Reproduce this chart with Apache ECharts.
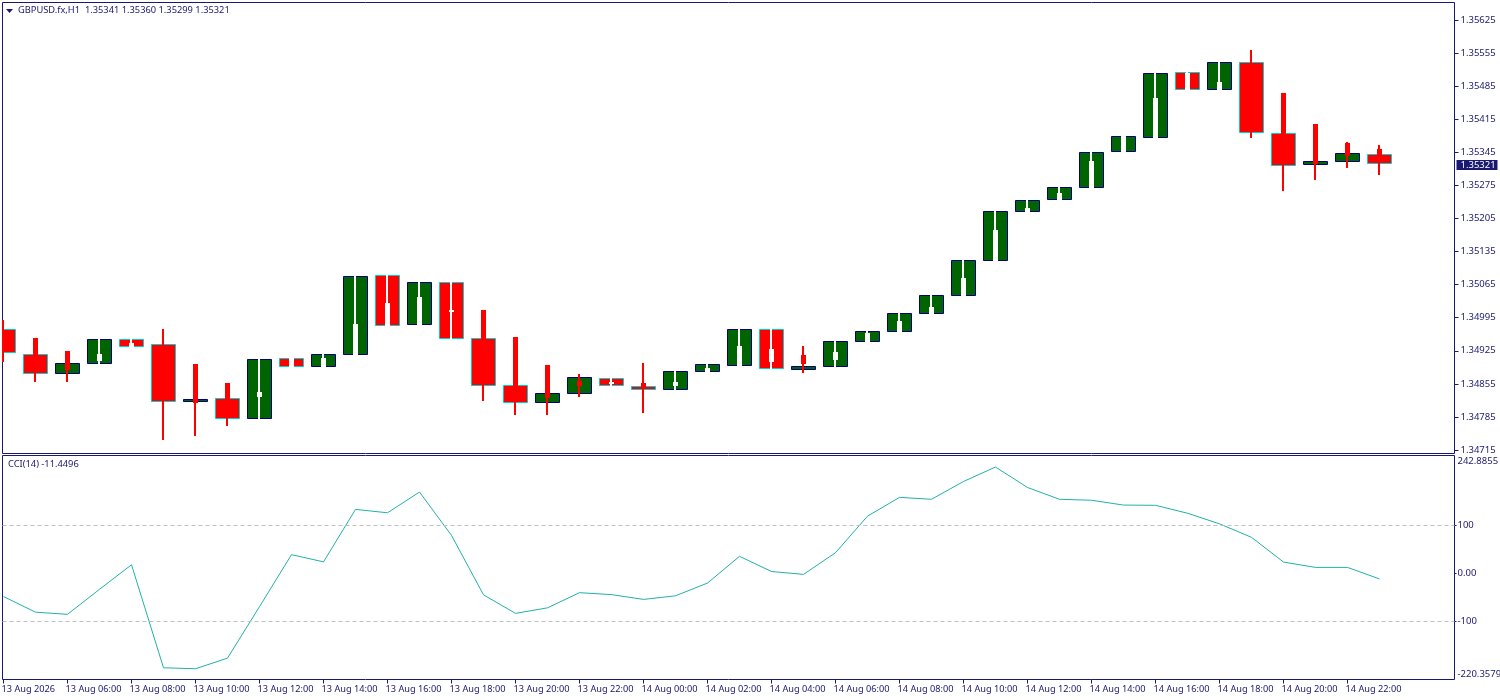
<!DOCTYPE html>
<html>
<head>
<meta charset="utf-8">
<title>GBPUSD.fx,H1</title>
<script src="https://cdn.jsdelivr.net/npm/echarts@6/dist/echarts.min.js"></script>
<style>
html, body { margin: 0; padding: 0; background: #fff; }
#chart { width: 1500px; height: 700px; }
</style>
</head>
<body>
<div id="chart"></div>
<script>
// bars 13 Aug 04:00 .. 14 Aug 23:00, hourly
var opens = [1.34970,1.34917,1.34877,1.34898,1.34949,1.34938,1.34818,1.34824,1.34782,1.34909,1.34892,1.34917,1.35084,1.34981,1.35069,1.34951,1.34851,1.34815,1.34835,1.34866,1.34849,1.34843,1.34881,1.34894,1.34970,1.34885,1.34892,1.34945,1.34966,1.35004,1.35042,1.35116,1.35220,1.35245,1.35271,1.35347,1.35376,1.35514,1.35478,1.35535,1.35385,1.35319,1.35326,1.35341];
var closes = [1.34921,1.34877,1.34898,1.34949,1.34934,1.34818,1.34822,1.34782,1.34907,1.34892,1.34917,1.35082,1.34979,1.35069,1.34951,1.34851,1.34815,1.34835,1.34868,1.34851,1.34843,1.34881,1.34896,1.34970,1.34888,1.34892,1.34945,1.34966,1.35004,1.35042,1.35116,1.35220,1.35243,1.35271,1.35345,1.35378,1.35512,1.35478,1.35535,1.35387,1.35317,1.35326,1.35342,1.35321];
var highs = [1.34989,1.34951,1.34923,1.34949,1.34949,1.34970,1.34896,1.34856,1.34907,1.34909,1.34917,1.35082,1.35084,1.35069,1.35069,1.35010,1.34953,1.34894,1.34875,1.34866,1.34898,1.34881,1.34896,1.34970,1.34970,1.34934,1.34945,1.34966,1.35004,1.35042,1.35116,1.35220,1.35243,1.35271,1.35345,1.35378,1.35512,1.35514,1.35535,1.35561,1.35470,1.35404,1.35366,1.35360];
var lows = [1.34902,1.34860,1.34860,1.34898,1.34934,1.34737,1.34746,1.34767,1.34782,1.34892,1.34892,1.34917,1.34979,1.34981,1.34951,1.34820,1.34790,1.34790,1.34828,1.34851,1.34794,1.34843,1.34881,1.34894,1.34888,1.34879,1.34892,1.34945,1.34966,1.35004,1.35042,1.35116,1.35220,1.35245,1.35271,1.35347,1.35376,1.35478,1.35478,1.35376,1.35264,1.35287,1.35313,1.35299];
// inner candle drawn inside each bar (thick part)
var innerTops = [1.34950,1.34951,1.34923,1.34917,1.34940,1.34904,1.34896,1.34856,1.34837,1.34909,1.34909,1.34981,1.35025,1.35038,1.35010,1.35010,1.34953,1.34894,1.34860,1.34858,1.34856,1.34858,1.34888,1.34934,1.34928,1.34915,1.34921,1.34961,1.34987,1.35017,1.35078,1.35180,1.35226,1.35258,1.35326,1.35378,1.35459,1.35512,1.35493,1.35497,1.35470,1.35404,1.35364,1.35351];
var innerBottoms = [1.34935,1.34896,1.34885,1.34904,1.34934,1.34862,1.34815,1.34809,1.34828,1.34892,1.34892,1.34917,1.34979,1.34981,1.35008,1.34883,1.34830,1.34826,1.34851,1.34856,1.34849,1.34851,1.34881,1.34894,1.34902,1.34898,1.34907,1.34945,1.34966,1.35004,1.35042,1.35116,1.35220,1.35245,1.35271,1.35347,1.35376,1.35478,1.35478,1.35412,1.35349,1.35321,1.35338,1.35323];
var innerRising = [0,0,0,1,1,0,0,0,1,1,1,1,1,1,1,0,0,0,0,1,0,1,1,1,1,0,1,1,1,1,1,1,1,1,1,1,1,1,1,0,0,0,0,0];
var cciValues = [-48,-80.5,-85,-33,18,-196,-198,-176,-69,39,24,133,126,169,79,-44.5,-83,-71.5,-40,-44,-54,-46.5,-20,35.5,4,-2,43,119,158,154,191,221,178.5,154,152,142,141.5,125,103,75,23.6,12.5,12.5,-11.4496];

var timeLabels = ['13 Aug 2026','13 Aug 06:00','13 Aug 08:00','13 Aug 10:00','13 Aug 12:00','13 Aug 14:00','13 Aug 16:00','13 Aug 18:00','13 Aug 20:00','13 Aug 22:00','14 Aug 00:00','14 Aug 02:00','14 Aug 04:00','14 Aug 06:00','14 Aug 08:00','14 Aug 10:00','14 Aug 12:00','14 Aug 14:00','14 Aug 16:00','14 Aug 18:00','14 Aug 20:00','14 Aug 22:00'];
var priceTicks = [1.35625,1.35555,1.35485,1.35415,1.35345,1.35275,1.35205,1.35135,1.35065,1.34995,1.34925,1.34855,1.34785,1.34715];
var cciTicks = [100,0,-100];
var cciLabels = [-220.3579,-100,0,100,242.8855];
var cciMin = -220.3579;
var cciMax = 242.8855;
var lastPrice = 1.35321;
var lastBar = 43;

var NAVY = '#191970';
var FONT = '"Noto Sans", sans-serif';

var tickIndexes = timeLabels.map(function (t, i) { return i * 2; });

var candleData = opens.map(function (o, i) {
    return [i, o, closes[i], highs[i], lows[i], innerTops[i], innerBottoms[i], innerRising[i]];
});
var cciData = cciValues.map(function (v, i) { return [i, v]; });

function renderBar(params, api) {
    var i = api.value(0);
    var cx = api.coord([i, api.value(1)])[0];
    var row = function (dim) { return Math.floor(api.coord([i, api.value(dim)])[1]); };
    var up = api.value(2) >= api.value(1);
    var top = Math.min(row(1), row(2));
    var bottom = Math.max(row(1), row(2));
    var wickColor = api.value(7) ? '#ffffff' : '#ff0000';
    return {
        type: 'group',
        children: [{
            type: 'rect',
            shape: { x: cx - 12, y: top + 0.5, width: 24, height: bottom - top },
            style: { fill: up ? '#006400' : '#ff0000', stroke: up ? '#000080' : '#00ced1', lineWidth: 1 }
        }, {
            type: 'rect',
            shape: { x: cx - 1.5, y: row(3), width: 2, height: row(4) - row(3) + 1 },
            style: { fill: wickColor }
        }, {
            type: 'rect',
            shape: { x: cx - 2.5, y: row(5), width: 5, height: row(6) - row(5) + 1 },
            style: { fill: wickColor }
        }]
    };
}

// price tag right of the plot, on the level of the last close
function renderPriceTag(params, api) {
    var y = Math.round(api.coord([api.value(0), api.value(1)])[1]);
    var x = params.coordSys.x + params.coordSys.width + 2;
    return {
        type: 'group',
        children: [{
            type: 'rect',
            shape: { x: x, y: y - 4, width: 41, height: 10 },
            style: { fill: NAVY }
        }, {
            type: 'text',
            x: x + 4,
            y: y + 1,
            style: {
                text: api.value(1).toFixed(5),
                fill: '#ffffff',
                font: '9.5px ' + FONT,
                verticalAlign: 'middle'
            }
        }]
    };
}

var chart = echarts.init(document.getElementById('chart'));
chart.setOption({
    animation: false,
    backgroundColor: '#ffffff',
    textStyle: { fontFamily: FONT },
    title: [{
        text: 'GBPUSD.fx,H1  1.35341 1.35360 1.35299 1.35321',
        left: 18, top: 6, padding: 0,
        textStyle: { color: NAVY, fontSize: 9.3, fontWeight: 'normal', fontFamily: FONT }
    }, {
        text: 'CCI(14) -11.4496',
        left: 8, top: 460, padding: 0,
        textStyle: { color: NAVY, fontSize: 9.3, fontWeight: 'normal', fontFamily: FONT }
    }],
    grid: [
        { left: 2.5, right: 45.5, top: 2.5, height: 451, outerBoundsMode: 'none' },
        { left: 2.5, right: 45.5, top: 456.5, height: 223, outerBoundsMode: 'none' }
    ],
    xAxis: [{
        type: 'value', gridIndex: 0, show: false, min: -0.03125, max: 45.34375
    }, {
        type: 'value', gridIndex: 1, min: -0.03125, max: 45.34375,
        splitLine: { show: false },
        axisLine: { show: false, onZero: false },
        axisTick: { length: 4, lineStyle: { color: NAVY }, customValues: tickIndexes },
        axisLabel: {
            color: NAVY, fontSize: 9.2, fontFamily: FONT, margin: 5, align: 'left',
            padding: [0, 0, 0, -2],
            customValues: tickIndexes,
            formatter: function (v) { return timeLabels[v / 2]; }
        }
    }],
    yAxis: [{
        type: 'value', gridIndex: 0, position: 'right', min: 1.347076, max: 1.35662,
        splitLine: { show: false },
        axisLine: { show: false, onZero: false },
        axisTick: { length: 4, lineStyle: { color: NAVY }, customValues: priceTicks },
        axisLabel: {
            color: NAVY, fontSize: 9.5, fontFamily: FONT, margin: 6,
            customValues: priceTicks,
            formatter: function (v) { return v.toFixed(5); }
        }
    }, {
        type: 'value', gridIndex: 1, position: 'right', min: cciMin, max: cciMax,
        splitLine: { show: false },
        axisLine: { show: false, onZero: false },
        axisTick: { length: 2, lineStyle: { color: NAVY }, customValues: cciTicks },
        axisLabel: {
            color: NAVY, fontSize: 9.5, fontFamily: FONT, margin: 3,
            customValues: cciLabels,
            verticalAlignMinLabel: 'bottom',
            verticalAlignMaxLabel: 'top',
            formatter: function (v) {
                if (v === 0) return '0.00';
                return String(v);
            }
        }
    }],
    series: [{
        name: 'GBPUSD.fx',
        type: 'custom',
        xAxisIndex: 0,
        yAxisIndex: 0,
        clip: true,
        renderItem: renderBar,
        encode: { x: 0, y: [1, 2, 3, 4] },
        data: candleData
    }, {
        name: 'last price',
        type: 'custom',
        xAxisIndex: 0,
        yAxisIndex: 0,
        clip: false,
        silent: true,
        renderItem: renderPriceTag,
        encode: { x: 0, y: 1 },
        data: [[lastBar, lastPrice]]
    }, {
        name: 'CCI(14)',
        type: 'line',
        xAxisIndex: 1,
        yAxisIndex: 1,
        symbol: 'none',
        clip: true,
        lineStyle: { color: '#20b2aa', width: 1 },
        data: cciData,
        markLine: {
            silent: true,
            symbol: 'none',
            animation: false,
            label: { show: false },
            lineStyle: { color: '#c0c0c0', type: [4, 3], width: 1 },
            data: [{ yAxis: 100 }, { yAxis: -100 }]
        }
    }],
    graphic: [{
        type: 'rect', silent: true,
        shape: { x: 2.5, y: 2.5, width: 1452, height: 451 },
        style: { fill: 'none', stroke: NAVY, lineWidth: 1 }
    }, {
        type: 'rect', silent: true,
        shape: { x: 2.5, y: 455.5, width: 1452, height: 224 },
        style: { fill: 'none', stroke: NAVY, lineWidth: 1 }
    }, {
        type: 'polygon', silent: true,
        shape: { points: [[6, 9], [13, 9], [9.5, 13]] },
        style: { fill: NAVY }
    }]
});
</script>
</body>
</html>
